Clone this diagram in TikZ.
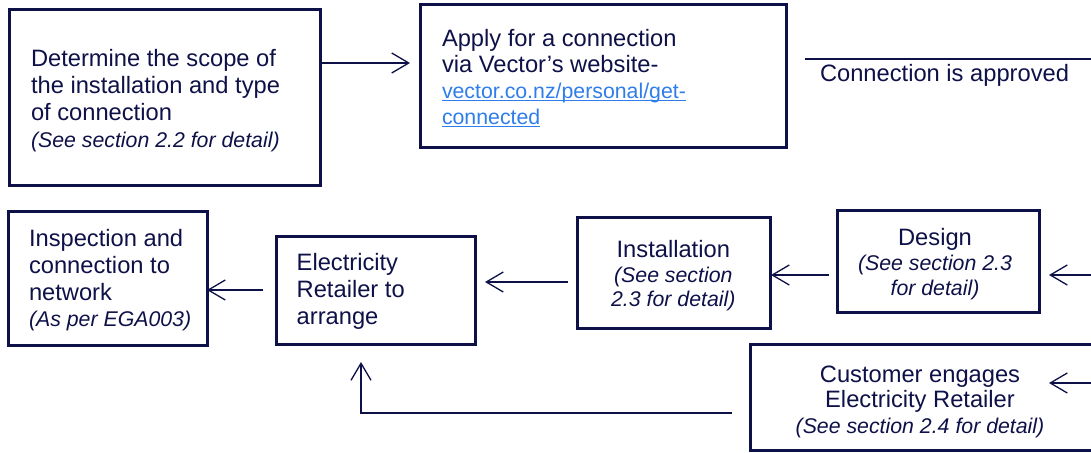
\documentclass[tikz,border=0pt]{standalone}
\usepackage{fontspec}
\setmainfont{Liberation Sans}
\usetikzlibrary{arrows.meta}
\definecolor{navy}{RGB}{14,16,72}
\definecolor{linkblue}{RGB}{46,125,235}
\newcommand\ulink[1]{\setbox0\hbox{#1}\rlap{\rule[-2.6pt]{\wd0}{1.1pt}}\box0}
\newcommand\notesz{\fontsize{21.3}{\baselineskip}\selectfont\itshape}
\newcommand\linksz{\fontsize{21.3}{\baselineskip}\selectfont\color{linkblue}}
\tikzset{
  box/.style={draw=navy,line width=3pt,inner sep=0pt,outer sep=0pt},
  txt/.style={text=navy,inner sep=0pt,outer sep=0pt,font=\fontsize{23.7}{#1}\selectfont},
  txt/.default=26.7,
  conn/.style={draw=navy,line width=1.3pt},
  arr/.style={conn,-{Straight Barb[length=17pt,width=20pt]}}
}
\begin{document}
\begin{tikzpicture}[x=1pt,y=-1pt]
\useasboundingbox (0,0) rectangle (1091,452);
\clip (0,0) rectangle (1091,452);
% boxes
\node[box,minimum width=311pt,minimum height=175pt] (b1) at (164.5,97.5) {};
\node[box,minimum width=366pt,minimum height=142pt] (b2) at (603,76) {};
\node[box,minimum width=199pt,minimum height=134pt] (b3) at (107.5,278) {};
\node[box,minimum width=199pt,minimum height=108pt] (b4) at (375.5,290) {};
\node[box,minimum width=193pt,minimum height=111pt] (b5) at (673.5,272.5) {};
\node[box,minimum width=202pt,minimum height=102pt] (b6) at (938,261) {};
\node[box,minimum width=350pt,minimum height=106pt] (b7) at (925,397) {};
% texts (base anchor = baseline of last line)
\node[txt,align=left,anchor=base west] (t1) at (31,147)
  {Determine the scope of\\the installation and type\\of connection\\{\notesz (See section 2.2 for detail)}};
\node[txt=26,align=left,anchor=base west] (t2) at (442,124)
  {Apply for a connection\\via Vector’s website-\\{\linksz\ulink{vector.co.nz/personal/get-}}\\{\linksz\ulink{connected}}};
\node[txt,anchor=base west] (t8) at (820,81.5) {Connection is approved};
\node[txt,align=left,anchor=base west] (t3) at (29,326.7)
  {Inspection and\\connection to\\network\\{\notesz (As per EGA003)}};
\node[txt=27,align=left,anchor=base west] (t4) at (296.7,324.3)
  {Electricity\\Retailer to\\arrange};
\node[txt=24.7,align=center,anchor=base] (t5) at (673.3,306.7)
  {Installation\\{\notesz (See section}\\{\notesz 2.3 for detail)}};
\node[txt=25,align=center,anchor=base] (t6) at (935,295.7)
  {Design\\{\notesz (See section 2.3}\\{\notesz for detail)}};
\node[txt=25.5,align=center,anchor=base] (t7) at (920,433.3)
  {Customer engages\\Electricity Retailer\\{\notesz (See section 2.4 for detail)}};
% helper coordinates
\coordinate (y63) at (0,63);
\coordinate (y282) at (0,282);
\coordinate (y275) at (0,275);
\coordinate (r6) at (1095,275);
\coordinate (r7) at (1095,383);
\coordinate (t7tip) at (1049,383);
\coordinate (c413) at (361,413);
\coordinate (a1) at (805,59);
\coordinate (a2) at (1095,59);
% connectors
\draw[arr,shorten >=10pt] (b1.east |- y63) -- (b2.west |- y63);
\draw[conn] (a1) -- (a2);
\draw[arr,shorten <=13pt] (b4.west) -- (b3.east |- b4.west);
\draw[arr,shorten <=9pt,shorten >=10pt] (b5.west |- y282) -- (b4.east |- y282);
\draw[arr,shorten <=8pt,shorten >=1pt] (b6.west |- y275) -- (b5.east |- y275);
\draw[arr,shorten >=10pt] (r6) -- (b6.east |- r6);
\draw[arr] (r7) -- (t7tip);
\draw[arr,shorten <=18pt,shorten >=18pt] (b7.west |- c413) -| (b4.south -| c413);
\end{tikzpicture}
\end{document}
